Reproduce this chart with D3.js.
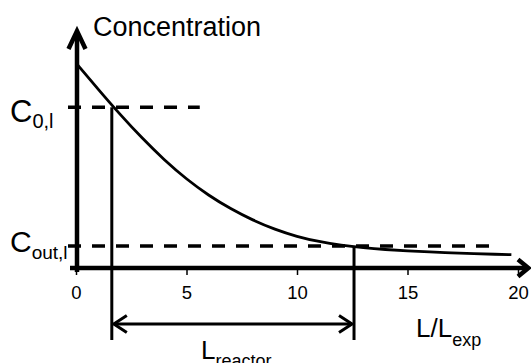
<!DOCTYPE html>
<html>
<head>
<meta charset="utf-8">
<script src="https://cdn.jsdelivr.net/npm/d3@7"></script>
<style>
  html, body { margin: 0; padding: 0; background: #fff; }
  svg { display: block; }
  text { font-family: "Liberation Sans", Arial, sans-serif; fill: #000; }
</style>
</head>
<body>
<svg id="chart" width="531" height="363"></svg>
<script>
// ---- data ----
const xTicks = [0, 5, 10, 15, 20];
const curveX = [0, 1, 2, 3, 4, 5, 6, 7, 8, 9, 10, 11, 12, 13, 14, 15, 16, 17, 18, 19, 19.7];
const curveY = [1.0, 0.872, 0.748, 0.632, 0.526, 0.433, 0.354, 0.288, 0.233, 0.188, 0.153, 0.128, 0.111, 0.099, 0.090, 0.083, 0.078, 0.074, 0.070, 0.067, 0.065];
const levelNames = ["C0", "Cout"];
const levelValues = [0.784, 0.107];
const levelXEnd = [5.6, 18.8];
const markerX = [1.62, 12.58];

// ---- layout ----
const svg = d3.select("#chart");
const x = d3.scaleLinear().domain([0, 20]).range([76, 518]);
const y = d3.scaleLinear().domain([0, 1]).range([268, 63]);
const axisY = 268;
const axisX = x(0) + 1;

// dashed level lines
levelValues.forEach((v, i) => {
  svg.append("line")
    .attr("x1", 68).attr("x2", x(levelXEnd[i]))
    .attr("y1", y(v)).attr("y2", y(v))
    .attr("stroke", "#000").attr("stroke-width", 3.5)
    .attr("stroke-dasharray", "13,11");
});

// curve
const pts = curveX.map((d, i) => [d, curveY[i]]);
svg.append("path")
  .attr("d", d3.line().x(d => x(d[0])).y(d => y(d[1])).curve(d3.curveBasis)(pts))
  .attr("fill", "none").attr("stroke", "#000").attr("stroke-width", 2.8);

// vertical marker lines
markerX.forEach((m, i) => {
  svg.append("line")
    .attr("x1", x(m)).attr("x2", x(m))
    .attr("y1", y(levelValues[i])).attr("y2", 340)
    .attr("stroke", "#000").attr("stroke-width", 3);
});

// x axis ticks & labels
const gx = svg.append("g").attr("transform", `translate(0,${axisY})`)
  .call(d3.axisBottom(x).tickValues(xTicks).tickSize(7).tickFormat(d3.format("d")));
gx.select(".domain").remove();
gx.selectAll(".tick line").attr("stroke", "#000").attr("stroke-width", 1.5);
gx.selectAll(".tick text")
  .attr("y", 31).attr("dy", 0)
  .style("font-family", "Liberation Sans, Arial, sans-serif")
  .style("font-size", "18.5px").attr("fill", "#000");

// axes lines
svg.append("line").attr("x1", 70).attr("x2", 528).attr("y1", axisY).attr("y2", axisY)
  .attr("stroke", "#000").attr("stroke-width", 4.5);
svg.append("line").attr("x1", axisX).attr("x2", axisX).attr("y1", 272).attr("y2", 33)
  .attr("stroke", "#000").attr("stroke-width", 4.5);
// arrowheads
svg.append("path").attr("d", `M${axisX - 8.5},49 L${axisX},31 L${axisX + 8.5},49`)
  .attr("fill", "none").attr("stroke", "#000").attr("stroke-width", 4.5).attr("stroke-linejoin", "miter");
svg.append("path").attr("d", `M518,259.5 L528.5,${axisY} L518,276.5`)
  .attr("fill", "none").attr("stroke", "#000").attr("stroke-width", 4.5).attr("stroke-linejoin", "miter");

// double arrow (L_reactor)
const ay = 324;
const ax1 = x(markerX[0]) + 2, ax2 = x(markerX[1]) - 2;
svg.append("line").attr("x1", ax1).attr("x2", ax2).attr("y1", ay).attr("y2", ay)
  .attr("stroke", "#000").attr("stroke-width", 3);
svg.append("path").attr("d", `M${ax1 + 13},${ay - 8.5} L${ax1},${ay} L${ax1 + 13},${ay + 8.5}`)
  .attr("fill", "none").attr("stroke", "#000").attr("stroke-width", 3);
svg.append("path").attr("d", `M${ax2 - 13},${ay - 8.5} L${ax2},${ay} L${ax2 - 13},${ay + 8.5}`)
  .attr("fill", "none").attr("stroke", "#000").attr("stroke-width", 3);

// labels
svg.append("text").attr("x", 93).attr("y", 36).style("font-size", "27px").text("Concentration");

function subLabel(xp, yp, main, sub, mainSize, subSize, shift) {
  const t = svg.append("text").attr("x", xp).attr("y", yp).style("font-size", mainSize + "px");
  t.append("tspan").text(main);
  t.append("tspan").attr("dy", shift).style("font-size", subSize + "px").text(sub);
}
subLabel(10, 122, "C", "0,l", 31, 20, 6);
subLabel(10, 252, "C", "out,l", 30, 19, 7);
subLabel(201, 359, "L", "reactor", 26, 18, 8);
subLabel(416, 337, "L/L", "exp", 26, 18, 9);
</script>
</body>
</html>
